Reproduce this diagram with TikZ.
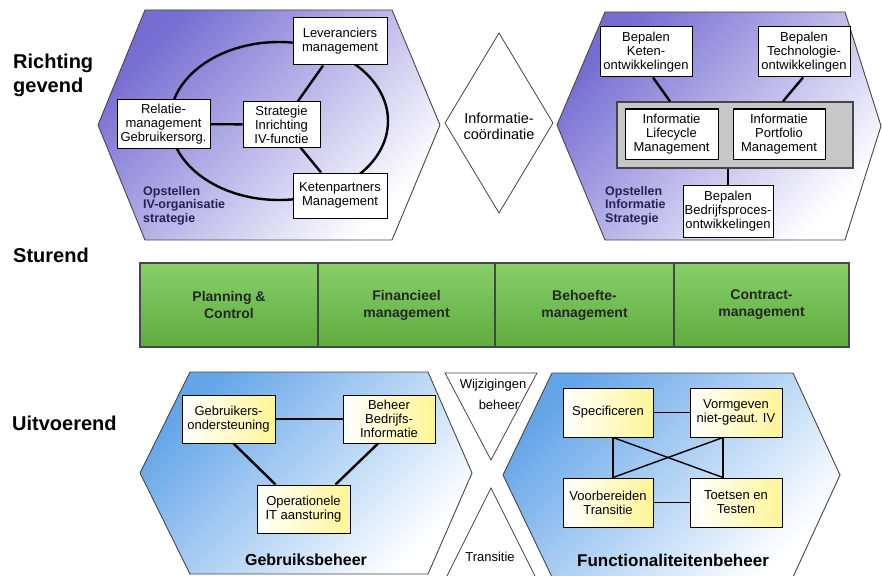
\documentclass[tikz,border=0pt]{standalone}
\usepackage{fontspec}
\setmainfont{Liberation Sans}
\usetikzlibrary{calc,positioning}

\definecolor{hexpurple}{RGB}{118,108,210}
\definecolor{hexblue}{RGB}{100,165,232}
\definecolor{boxyellow}{RGB}{255,245,150}
\definecolor{barlight}{RGB}{135,208,105}
\definecolor{bardark}{RGB}{95,172,62}
\definecolor{labelnavy}{RGB}{35,35,85}
\definecolor{framegray}{RGB}{70,70,70}

\tikzset{
  hexa/.style={draw=framegray, line width=0.9pt},
  box/.style={draw, line width=1pt, fill=white, align=center, inner sep=1pt,
    font=\fontsize{13}{14}\selectfont},
  ybox/.style={box, left color=white, right color=boxyellow},
  phase/.style={draw=framegray, line width=1.2pt, outer sep=0pt, minimum height=84pt,
    top color=barlight, bottom color=bardark, align=center, text=black!85,
    font=\bfseries\fontsize{14}{17}\selectfont},
  level/.style={anchor=west, inner sep=0pt, align=left,
    font=\bfseries\fontsize{20}{24}\selectfont},
  area/.style={anchor=north west, inner sep=0pt, align=left, text=labelnavy,
    font=\bfseries\fontsize{12.5}{13.5}\selectfont},
  link/.style={line width=2.4pt},
  thinlink/.style={line width=1.4pt}
}

\begin{document}
\begin{tikzpicture}[x=1pt,y=-1pt]
\useasboundingbox (0,0) rectangle (882,575);
\clip (0,0) rectangle (882,575);

\shade[hexa, top color=hexpurple, middle color=hexpurple!35!white, bottom color=white, shading angle=45]
  (145,10) -- (392,10) -- (440,125) -- (392,240) -- (145,240) -- (98,125) -- cycle;
\shade[hexa, top color=hexpurple, middle color=hexpurple!35!white, bottom color=white, shading angle=45]
  (605,12) -- (845,12) -- (881,126) -- (845,240) -- (605,240) -- (557,125) -- cycle;
\shade[hexa, top color=hexblue, middle color=hexblue!35!white, bottom color=white, shading angle=45]
  (190,372) -- (428,372) -- (472,473) -- (428,574) -- (190,574) -- (140,473) -- cycle;
\shade[hexa, top color=hexblue, middle color=hexblue!35!white, bottom color=white, shading angle=45]
  (552,373) -- (793,373) -- (840,475) -- (793,577) -- (552,577) -- (503,475) -- cycle;

\draw[framegray, fill=white, line width=0.8pt] (445,373) -- (537,373) -- (491,460) -- cycle;
\draw[framegray, fill=white, line width=0.8pt] (491,488) -- (537,580) -- (445,580) -- cycle;
\draw[framegray, fill=white, line width=0.8pt] (445,123) -- (499,33) -- (553,123) -- (499,213) -- cycle;

\draw[link] (279,121) ellipse [x radius=109pt, y radius=79pt];

\node[level] (richting) at (13,75) {Richting\\gevend};
\node[level] (sturend) at (13,255) {Sturend};
\node[level] (uitvoerend) at (12,423) {Uitvoerend};

\node[box, minimum width=94pt, minimum height=47pt] (lev) at (340,41.5) {Leveranciers\\management};
\node[box, minimum width=93pt, minimum height=48pt] (rel) at (163.5,124) {Relatie-\\management\\Gebruikersorg.};
\node[box, minimum width=77pt, minimum height=45pt] (strat) at (281.5,124.5) {Strategie\\Inrichting\\IV-functie};
\node[box, minimum width=94pt, minimum height=45pt] (ketp) at (340,195.5) {Ketenpartners\\Management};
\draw[link] (rel) -- (strat);
\draw[link] (strat) -- (lev);
\draw[link] (strat) -- (ketp);
\node[area] (ivorg) at (143,186) {Opstellen\\IV-organisatie\\strategie};

\node[font=\fontsize{14.5}{16}\selectfont, align=center] (infocoord) at (499,126) {Informatie-\\coördinatie};

\node[box, minimum width=92pt, minimum height=50pt] (keten) at (646,52) {Bepalen\\Keten-\\ontwikkelingen};
\node[box, minimum width=92pt, minimum height=50pt] (techno) at (804,52) {Bepalen\\Technologie-\\ontwikkelingen};
\node[box, fill=black!22, draw=framegray, line width=1.3pt, minimum width=236pt, minimum height=66pt] (ipbox) at (735,135) {};
\node[box, minimum width=93pt, minimum height=50pt] (ilm) at (671.5,134) {Informatie\\Lifecycle\\Management};
\node[box, minimum width=92pt, minimum height=50pt] (ipm) at (779,134) {Informatie\\Portfolio\\Management};
\node[box, minimum width=90pt, minimum height=52pt] (bedr) at (728,211) {Bepalen\\Bedrijfsproces-\\ontwikkelingen};
\draw[link] ([xshift=7pt]keten.south) -- ([xshift=-65pt]ipbox.north);
\draw[link] ([xshift=-1pt]techno.south) -- ([xshift=48pt]ipbox.north);
\draw[link] (ipbox.south -| bedr) -- (bedr);
\node[area] (infostrat) at (605,186) {Opstellen\\Informatie\\Strategie};

\node[phase, minimum width=178pt] (plan) at (229,305) {Planning \&\\Control};
\node[phase, minimum width=177pt, right=0pt of plan] (fin) {Financieel\\management};
\node[phase, minimum width=179pt, right=0pt of fin] (need) {Behoefte-\\management};
\node[phase, minimum width=175pt, right=0pt of need] (contr) {Contract-\\management};

\node[ybox, minimum width=93pt, minimum height=48pt] (gebr) at (228.5,419) {Gebruikers-\\ondersteuning};
\node[ybox, minimum width=92pt, minimum height=48pt] (beheer) at (389,419) {Beheer\\Bedrijfs-\\Informatie};
\node[ybox, minimum width=93pt, minimum height=48pt] (oper) at (303.5,509) {Operationele\\IT aansturing};
\draw[link] (gebr) -- (beheer);
\draw[link] ([xshift=5pt]gebr.south) -- ([xshift=-28pt]oper.north);
\draw[link] ([xshift=-11pt]beheer.south) -- ([xshift=32pt]oper.north);
\node[font=\bfseries\fontsize{16}{18}\selectfont] (gebrbeh) at (306,560) {Gebruiksbeheer};

\node[font=\fontsize{13}{21}\selectfont, align=center] (wijz) at (493,394) {Wijzigingen\\\hspace*{12pt}beheer};
\node[font=\fontsize{13}{15}\selectfont] (trans) at (490,557) {Transitie};

\node[ybox, minimum width=90pt, minimum height=49pt] (spec) at (608,412.5) {Specificeren};
\node[ybox, minimum width=92pt, minimum height=49pt] (vorm) at (736,412.5) {Vormgeven\\niet-geaut. IV};
\node[ybox, minimum width=90pt, minimum height=49pt] (voorb) at (608,502.5) {Voorbereiden\\Transitie};
\node[ybox, minimum width=92pt, minimum height=49pt] (toets) at (736,502.5) {Toetsen en\\Testen};
\coordinate (specb) at ([xshift=5pt]spec.south);
\coordinate (vormb) at ([xshift=-13pt]vorm.south);
\coordinate (voorbt) at ([xshift=5pt]voorb.north);
\coordinate (toetst) at ([xshift=-13pt]toets.north);
\draw[thinlink] (spec) -- (vorm);
\draw[thinlink] (voorb) -- (toets);
\draw[thinlink] (specb) -- (voorbt);
\draw[thinlink] (vormb) -- (toetst);
\draw[thinlink] (specb) -- (toetst);
\draw[thinlink] (vormb) -- (voorbt);
\node[font=\bfseries\fontsize{17}{19}\selectfont] (funcbeh) at (673,560) {Functionaliteitenbeheer};
\end{tikzpicture}
\end{document}
